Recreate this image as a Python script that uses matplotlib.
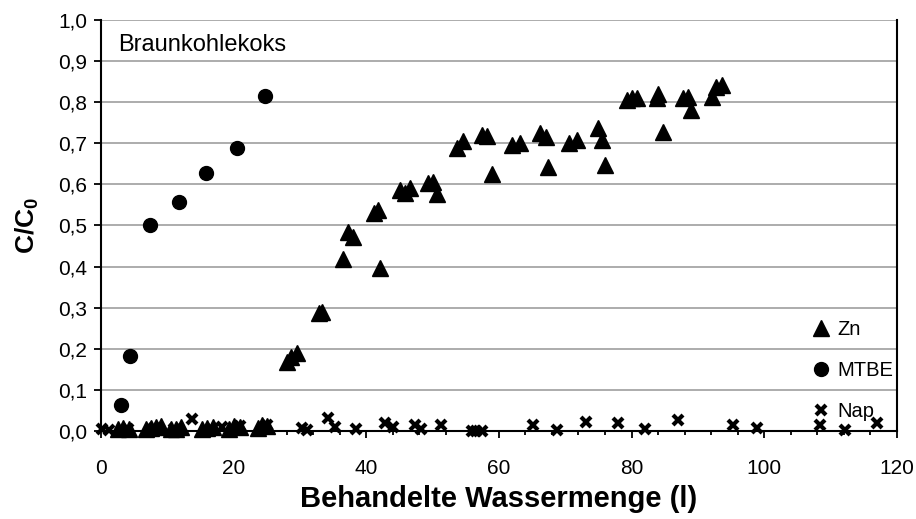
import matplotlib
matplotlib.use("Agg")
import matplotlib.pyplot as plt
import numpy as np
from matplotlib.ticker import MultipleLocator, FuncFormatter

plt.rcParams['font.family'] = ['Liberation Sans', 'DejaVu Sans']
plt.rcParams['mathtext.fontset'] = 'custom'
plt.rcParams['mathtext.rm'] = 'Liberation Sans:bold'
plt.rcParams['mathtext.bf'] = 'Liberation Sans:bold'

# Zn breakthrough
zn_x = [2.5, 3.3, 4.2, 6.8, 7.6, 8.3, 9.1, 10.6, 11.3, 12.1, 15.2, 16.0, 16.9,
        19.3, 20.1, 20.9, 23.6, 24.3, 25.1,
        28.0, 28.7, 29.5, 32.8, 33.3, 36.5, 37.3, 38.0, 41.1, 41.8, 42.1,
        45.1, 45.8, 46.6, 49.3, 50.1, 50.6, 53.7, 54.6, 57.4, 58.2, 58.9,
        62.0, 63.2, 66.2, 67.1, 67.4, 70.6, 71.8, 75.0, 75.5, 76.0,
        79.3, 80.0, 80.8, 83.8, 84.0, 84.8, 87.8, 88.5, 89.0, 92.1, 92.8, 93.6]
zn_y = [0.005, 0.008, 0.006, 0.004, 0.007, 0.010, 0.012, 0.004, 0.006, 0.010, 0.004, 0.008, 0.010,
        0.006, 0.012, 0.010, 0.008, 0.014, 0.012,
        0.169, 0.181, 0.189, 0.288, 0.290, 0.418, 0.485, 0.473, 0.530, 0.538, 0.396,
        0.586, 0.578, 0.590, 0.603, 0.607, 0.576, 0.689, 0.705, 0.720, 0.718, 0.625,
        0.696, 0.700, 0.725, 0.715, 0.643, 0.700, 0.708, 0.736, 0.708, 0.647,
        0.805, 0.809, 0.809, 0.809, 0.821, 0.728, 0.809, 0.813, 0.781, 0.813, 0.838, 0.842]

# MTBE breakthrough
mtbe_x = [3.0, 4.3, 7.4, 11.7, 15.9, 20.5, 24.7]
mtbe_y = [0.063, 0.182, 0.501, 0.558, 0.627, 0.689, 0.816]

# Naphthalene
nap_x = [0.2, 1.2, 4.0, 8.0, 11.0, 13.7, 16.8, 18.3, 21.0, 25.0, 30.3, 31.0, 34.3, 35.3,
         38.5, 42.8, 44.1, 47.3, 48.3, 51.2, 55.9, 56.6, 57.4, 65.2, 68.7, 73.2,
         78.0, 82.0, 87.0, 95.3, 98.9, 108.4, 112.2, 117.0]
nap_y = [0.005, 0.003, 0.004, 0.008, 0.005, 0.030, 0.006, 0.010, 0.012, 0.015, 0.007, 0.003, 0.031, 0.010,
         0.006, 0.019, 0.010, 0.015, 0.006, 0.015, 0.001, 0.001, 0.001, 0.015, 0.002, 0.023,
         0.019, 0.004, 0.027, 0.015, 0.007, 0.015, 0.002, 0.019]

fig = plt.figure(figsize=(9.16, 5.19), dpi=100)
ax = fig.add_axes([0.1103, 0.1696, 0.8687, 0.7919])

ax.plot(zn_x, zn_y, linestyle='none', marker='^', markersize=11, color='black',
        label='Zn', clip_on=False, zorder=4)
ax.plot(mtbe_x, mtbe_y, linestyle='none', marker='o', markersize=10, color='black',
        label='MTBE', clip_on=False, zorder=4)
ax.plot(nap_x, nap_y, linestyle='none', marker='x', markersize=7, markeredgewidth=3,
        color='black', label='Nap', clip_on=False, zorder=4)

ax.set_xlim(0, 120)
ax.set_ylim(0, 1.0)
ax.xaxis.set_major_locator(MultipleLocator(20))
ax.xaxis.set_minor_locator(MultipleLocator(4))
ax.yaxis.set_major_locator(MultipleLocator(0.1))
ax.yaxis.set_major_formatter(FuncFormatter(lambda v, p: f"{v:.1f}".replace('.', ',')))

ax.grid(axis='y', color='#a6a6a6', linewidth=1.3)
ax.set_axisbelow(True)
ax.spines['top'].set_visible(False)
for s in ['left', 'bottom', 'right']:
    ax.spines[s].set_linewidth(1.5)
    ax.spines[s].set_color('black')

ax.tick_params(axis='both', which='major', direction='out', length=5, width=1.3,
               labelsize=15, color='black')
ax.tick_params(axis='x', which='minor', direction='out', length=3, width=1.3)
ax.tick_params(axis='x', which='major', pad=15)
ax.tick_params(axis='y', which='major', pad=5)

ax.set_xlabel('Behandelte Wassermenge (l)', fontsize=21, fontweight='bold', labelpad=5)
ax.set_ylabel(r'$\mathbf{C/C_0}$', fontsize=19, labelpad=12)

ax.text(0.022, 0.94, 'Braunkohlekoks', transform=ax.transAxes, fontsize=17,
        va='center', ha='left')

ax.legend(loc='upper left', bbox_to_anchor=(0.885, 0.295), frameon=False,
          fontsize=14.5, handlelength=0.6, handletextpad=0.5, labelspacing=1.1,
          borderpad=0)

fig.savefig('out.png', dpi=100)
